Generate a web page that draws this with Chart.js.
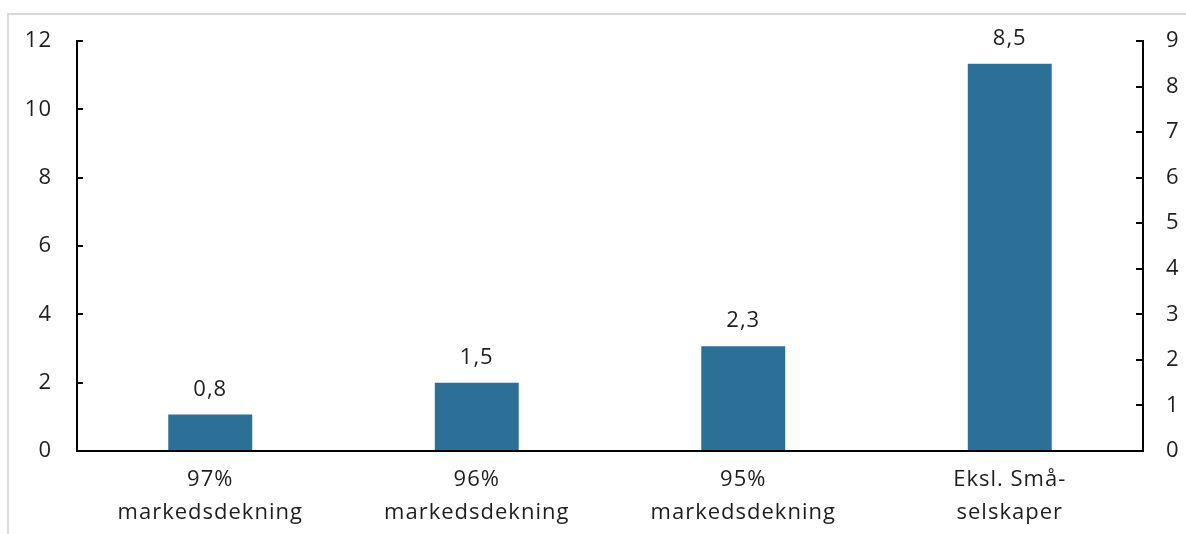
<!DOCTYPE html>
<html>
<head>
<meta charset="utf-8">
<script src="https://cdn.jsdelivr.net/npm/chart.js@4/dist/chart.umd.min.js"></script>
<style>
  html, body { margin: 0; padding: 0; background: #fff; }
  #wrap { width: 1186px; height: 534px; position: relative; }
</style>
</head>
<body>
<div id="wrap"><canvas id="c" width="1186" height="534"></canvas></div>
<script>
// Categories and values (values on the right axis, 0–9)
const categories = [
  ['97%', 'markedsdekning'],
  ['96%', 'markedsdekning'],
  ['95%', 'markedsdekning'],
  ['Eksl. Små-', 'selskaper']
];
const values = [0.8, 1.5, 2.3, 8.5];
const leftTicks = [0, 2, 4, 6, 8, 10, 12];
const rightTicks = [0, 1, 2, 3, 4, 5, 6, 7, 8, 9];

const FONT = '"Open Sans", "Noto Sans", sans-serif';
const SIZE = 22;
const TEXT = '#1e1e1e';

// Slightly wider text tracking for all labels
const spacingPlugin = {
  id: 'spacing',
  beforeLayout(chart) { chart.ctx.letterSpacing = '1px'; },
  beforeDraw(chart) { chart.ctx.letterSpacing = '1px'; }
};

// Thin grey frame along top and left edge of the figure
const framePlugin = {
  id: 'frame',
  beforeDraw(chart) {
    const ctx = chart.ctx;
    ctx.save();
    ctx.strokeStyle = '#d9d9d9';
    ctx.lineWidth = 2;
    ctx.beginPath();
    ctx.moveTo(8, 534);
    ctx.lineTo(8, 14);
    ctx.lineTo(1186, 14);
    ctx.stroke();
    ctx.restore();
  }
};

// Axis lines with inward tick marks
const axesPlugin = {
  id: 'axesLines',
  afterDatasetsDraw(chart) {
    const ctx = chart.ctx;
    const a = chart.chartArea;
    const yl = chart.scales.yLeft, yr = chart.scales.yRight;
    ctx.save();
    ctx.strokeStyle = '#000';
    ctx.lineWidth = 2;
    ctx.beginPath();
    ctx.moveTo(a.left, a.top - 1); ctx.lineTo(a.left, a.bottom + 1);
    ctx.moveTo(a.right, a.top - 1); ctx.lineTo(a.right, a.bottom + 1);
    ctx.moveTo(a.left, a.bottom); ctx.lineTo(a.right, a.bottom);
    leftTicks.forEach(v => {
      const y = Math.round(yl.getPixelForValue(v));
      ctx.moveTo(a.left, y); ctx.lineTo(a.left + 6, y);
    });
    rightTicks.forEach(v => {
      const y = Math.round(yr.getPixelForValue(v));
      ctx.moveTo(a.right, y); ctx.lineTo(a.right - 7, y);
    });
    ctx.stroke();
    ctx.restore();
  }
};

// Value labels above bars, decimal comma
const labelPlugin = {
  id: 'valueLabels',
  afterDatasetsDraw(chart) {
    const ctx = chart.ctx;
    const meta = chart.getDatasetMeta(0);
    ctx.save();
    ctx.fillStyle = TEXT;
    ctx.font = SIZE + 'px ' + FONT;
    ctx.letterSpacing = '1px';
    ctx.textAlign = 'center';
    ctx.textBaseline = 'alphabetic';
    meta.data.forEach((bar, i) => {
      const txt = values[i].toFixed(1).replace('.', ',');
      ctx.fillText(txt, bar.x, bar.y - 19);
    });
    ctx.restore();
  }
};

new Chart(document.getElementById('c'), {
  type: 'bar',
  data: {
    labels: categories,
    datasets: [{
      data: values,
      yAxisID: 'yRight',
      backgroundColor: '#2c7097',
      borderWidth: 0,
      categoryPercentage: 1,
      barPercentage: 0.315
    }]
  },
  options: {
    responsive: false,
    animation: false,
    events: [],
    layout: { padding: { top: 41, left: 0, right: 0, bottom: 0 } },
    plugins: { legend: { display: false }, tooltip: { enabled: false } },
    scales: {
      x: {
        grid: { display: false, drawTicks: false },
        border: { display: false },
        ticks: {
          color: TEXT,
          font: { family: FONT, size: SIZE, lineHeight: 1.5 },
          padding: 12,
          maxRotation: 0,
          autoSkip: false
        },
        afterFit(s) { s.height = 83; }
      },
      yLeft: {
        position: 'left',
        min: 0, max: 12,
        grid: { display: false, drawTicks: false },
        border: { display: false },
        afterBuildTicks(s) { s.ticks = leftTicks.map(v => ({ value: v })); },
        ticks: {
          color: TEXT,
          font: { family: FONT, size: SIZE },
          padding: 25
        },
        afterFit(s) { s.width = 77; }
      },
      yRight: {
        position: 'right',
        min: 0, max: 9,
        grid: { display: false, drawTicks: false },
        border: { display: false },
        afterBuildTicks(s) { s.ticks = rightTicks.map(v => ({ value: v })); },
        ticks: {
          color: TEXT,
          font: { family: FONT, size: SIZE },
          padding: 23
        },
        afterFit(s) { s.width = 43; }
      }
    }
  },
  plugins: [spacingPlugin, framePlugin, axesPlugin, labelPlugin]
});
</script>
</body>
</html>
